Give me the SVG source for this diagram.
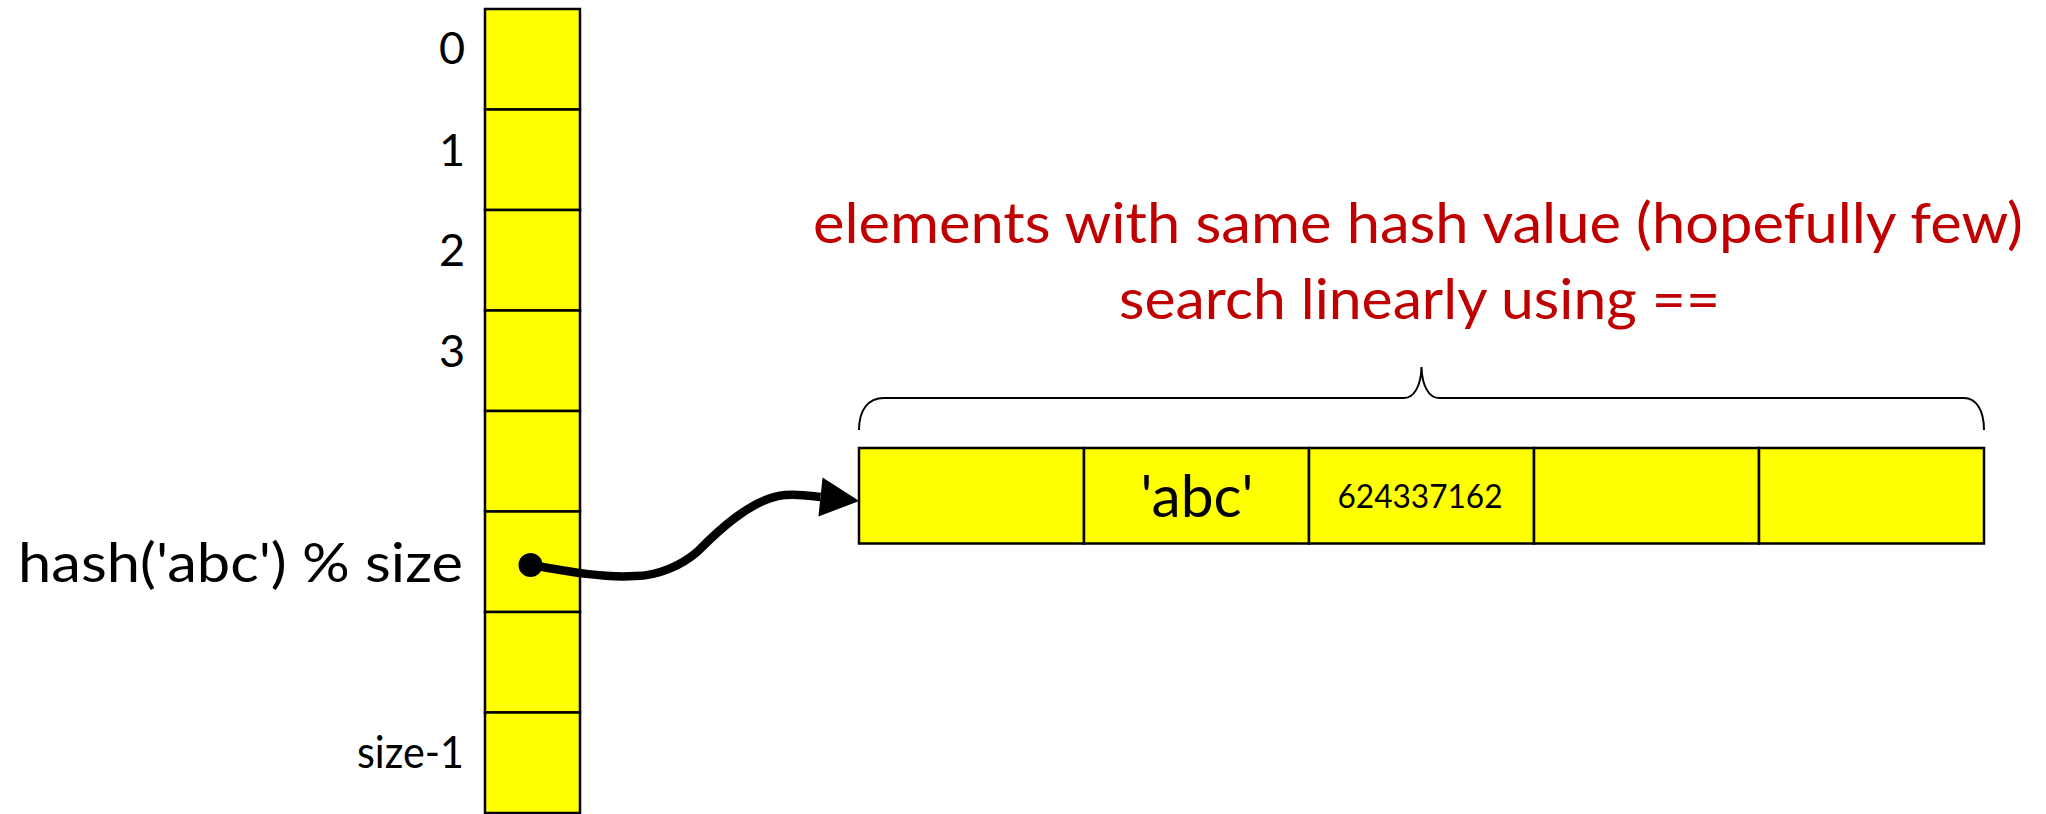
<svg xmlns="http://www.w3.org/2000/svg" width="2046" height="814" viewBox="0 0 2046 814">
  <style>
    .cell { fill: #FFFF00; stroke: #000000; stroke-width: 2.5; }
    .lbl { font-family: Lato, "Open Sans", "Liberation Sans", sans-serif; fill: #000000; }
    .idx { font-size: 45px; text-anchor: end; }
    .red { font-family: Lato, "Open Sans", "Liberation Sans", sans-serif; fill: #C00000; font-size: 57px; text-anchor: middle; }
    .brace { fill: none; stroke: #000000; stroke-width: 2; }
    .conn { fill: none; stroke: #000000; stroke-width: 8.5; }
  </style>
  <defs>
    <marker id="arrow" markerUnits="userSpaceOnUse" markerWidth="40" markerHeight="40" refX="0" refY="20" orient="auto" overflow="visible">
      <path d="M0,0.5 L39,20 L0,39.5 Z" fill="#000000"/>
    </marker>
  </defs>
  <rect x="0" y="0" width="2046" height="814" fill="#FFFFFF"/>

  <g id="table">
    <g id="slot-0"><rect class="cell" x="485" y="9" width="95" height="100.5"/><text class="lbl idx" x="465" y="64">0</text></g>
    <g id="slot-1"><rect class="cell" x="485" y="109.5" width="95" height="100.5"/><text class="lbl idx" x="465" y="165.5">1</text></g>
    <g id="slot-2"><rect class="cell" x="485" y="210" width="95" height="100.5"/><text class="lbl idx" x="465" y="265.5">2</text></g>
    <g id="slot-3"><rect class="cell" x="485" y="310.5" width="95" height="100.5"/><text class="lbl idx" x="465" y="366.5">3</text></g>
    <g id="slot-4"><rect class="cell" x="485" y="411" width="95" height="100.5"/></g>
    <g id="slot-hash"><rect class="cell" x="485" y="511.5" width="95" height="100.5"/><text class="lbl" x="463" y="581.5" font-size="55" text-anchor="end" textLength="445" lengthAdjust="spacingAndGlyphs">hash('abc') % size</text></g>
    <g id="slot-6"><rect class="cell" x="485" y="612" width="95" height="100.5"/></g>
    <g id="slot-last"><rect class="cell" x="485" y="712.5" width="95" height="100.5"/><text class="lbl idx" x="464" y="768" textLength="107" lengthAdjust="spacingAndGlyphs">size-1</text></g>
  </g>

  <g id="chain">
    <g id="chain-0"><rect class="cell" x="859" y="448" width="225" height="95.5"/></g>
    <g id="chain-1"><rect class="cell" x="1084" y="448" width="225" height="95.5"/><text class="lbl" x="1197" y="517" font-size="58" text-anchor="middle" textLength="113" lengthAdjust="spacingAndGlyphs">'abc'</text></g>
    <g id="chain-2"><rect class="cell" x="1309" y="448" width="225" height="95.5"/><text class="lbl" x="1420" y="508" font-size="33" text-anchor="middle" textLength="165" lengthAdjust="spacingAndGlyphs">624337162</text></g>
    <g id="chain-3"><rect class="cell" x="1534" y="448" width="225" height="95.5"/></g>
    <g id="chain-4"><rect class="cell" x="1759" y="448" width="225" height="95.5"/></g>
  </g>

  <g id="brace">
    <path class="brace" d="M859,430 C859,410 868,398 884,398 L1404,398 C1414,398 1421,386 1421.5,367 C1422,386 1429,398 1439,398 L1964,398 C1976,398 1984,410 1984,430"/>
  </g>

  <g id="caption">
    <text class="red" x="1418" y="243" textLength="1210" lengthAdjust="spacingAndGlyphs">elements with same hash value (hopefully few)</text>
    <text class="red" x="1419.5" y="319" textLength="601" lengthAdjust="spacingAndGlyphs">search linearly using ==</text>
  </g>

  <g id="connectors">
    <circle cx="530.5" cy="565" r="12" fill="#000000"/>
    <path class="conn" marker-end="url(#arrow)" d="M531,565 C570,572 605,578 635,576 C658,576 682,565 697,552 C712,537 750,498 785,495 C800,493.7 811,496 820.5,497"/>
  </g>
</svg>
